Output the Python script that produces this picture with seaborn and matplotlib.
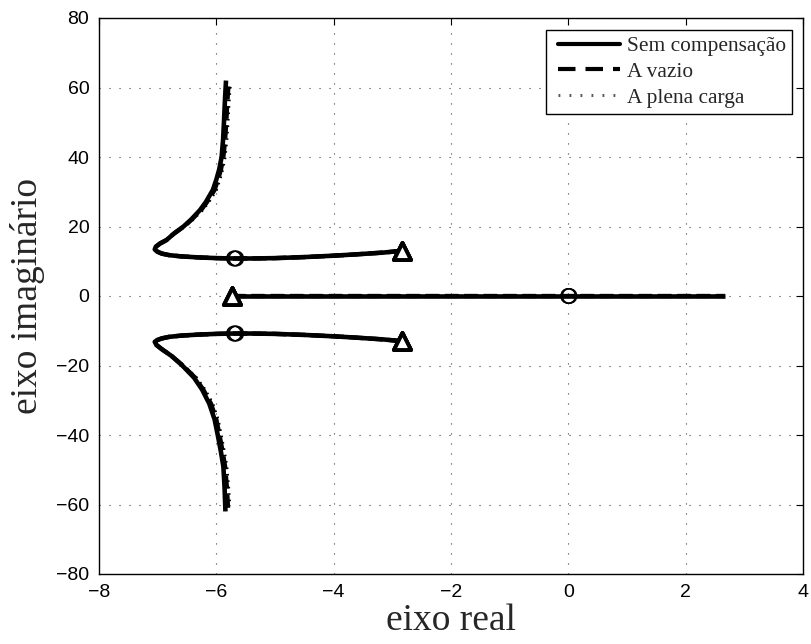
import numpy as np
import pandas as pd
import matplotlib
matplotlib.use("Agg")
import matplotlib.pyplot as plt
import seaborn as sns
from matplotlib.lines import Line2D
from matplotlib.legend_handler import HandlerLine2D

# Root-locus branches (real part, imaginary part)
series_names = ["Sem compensação", "A vazio", "A plena carga"]

# upper complex branch, from the open-loop pole upward
upper_re_sem = [-2.84, -3.15, -3.6, -4.0, -4.5, -5.0, -5.4, -5.7, -6.0, -6.3, -6.6, -6.8, -6.93, -7.01, -7.05,
                -7.03, -6.96, -6.85, -6.72, -6.56, -6.43, -6.28, -6.18, -6.06, -6.0, -5.95, -5.91,
                -5.885, -5.87, -5.857, -5.845, -5.835]
upper_im_sem = [13.0, 12.5, 12.0, 11.6, 11.2, 10.9, 10.8, 10.8, 10.9, 11.1, 11.4, 11.75, 12.2, 12.8, 13.4,
                14.2, 15.1, 16.1, 18.0, 20.0, 22.0, 24.7, 27.0, 30.5, 33.5, 36.5, 40.0,
                45.0, 50.0, 55.0, 59.0, 62.0]
upper_re_vaz = [-2.84, -3.15, -3.6, -4.0, -4.5, -5.0, -5.4, -5.7, -6.0, -6.3, -6.6, -6.8, -6.93, -7.01, -7.05,
                -7.03, -6.96, -6.85, -6.72, -6.55, -6.42, -6.26, -6.16, -6.03, -5.97, -5.92, -5.88,
                -5.85, -5.83, -5.815, -5.80, -5.79]
upper_im_vaz = [13.0, 12.5, 12.0, 11.6, 11.2, 10.9, 10.8, 10.8, 10.9, 11.1, 11.4, 11.75, 12.2, 12.8, 13.4,
                14.2, 15.1, 16.1, 18.0, 20.0, 22.0, 24.7, 27.0, 30.5, 33.5, 36.5, 40.0,
                45.0, 50.0, 55.0, 59.0, 61.0]
upper_re_ple = [-2.84, -3.15, -3.6, -4.0, -4.5, -5.0, -5.4, -5.7, -6.0, -6.3, -6.6, -6.8, -6.93, -7.01, -7.05,
                -7.03, -6.96, -6.85, -6.72, -6.55, -6.41, -6.25, -6.14, -6.01, -5.95, -5.90, -5.86,
                -5.83, -5.81, -5.795, -5.78, -5.77]
upper_im_ple = [13.0, 12.5, 12.0, 11.6, 11.2, 10.9, 10.8, 10.8, 10.9, 11.1, 11.4, 11.75, 12.2, 12.8, 13.4,
                14.2, 15.1, 16.1, 18.0, 20.0, 22.0, 24.7, 27.0, 30.5, 33.5, 36.5, 40.0,
                45.0, 50.0, 55.0, 59.0, 60.5]

# lower complex branch, from the open-loop pole downward
lower_re_sem = [-2.84, -3.15, -3.6, -4.0, -4.5, -5.0, -5.4, -5.7, -6.0, -6.3, -6.6, -6.8, -6.93, -7.01, -7.05,
                -7.02, -6.93, -6.76, -6.58, -6.38, -6.24, -6.12, -6.03, -5.97, -5.92, -5.88, -5.86, -5.845]
lower_im_sem = [-13.0, -12.5, -12.0, -11.6, -11.2, -10.9, -10.8, -10.8, -10.9, -11.1, -11.4, -11.75, -12.2, -12.7, -13.2,
                -14.1, -15.3, -17.3, -20.0, -23.5, -27.0, -31.0, -35.5, -40.5, -45.0, -49.1, -55.0, -62.0]
lower_re_vaz = [-2.84, -3.15, -3.6, -4.0, -4.5, -5.0, -5.4, -5.7, -6.0, -6.3, -6.6, -6.8, -6.93, -7.01, -7.05,
                -7.02, -6.93, -6.76, -6.57, -6.36, -6.22, -6.09, -6.0, -5.94, -5.89, -5.85, -5.82, -5.80]
lower_im_vaz = [-13.0, -12.5, -12.0, -11.6, -11.2, -10.9, -10.8, -10.8, -10.9, -11.1, -11.4, -11.75, -12.2, -12.7, -13.2,
                -14.1, -15.3, -17.3, -20.0, -23.5, -27.0, -31.0, -35.5, -40.5, -45.0, -49.1, -55.0, -61.0]
lower_re_ple = [-2.84, -3.15, -3.6, -4.0, -4.5, -5.0, -5.4, -5.7, -6.0, -6.3, -6.6, -6.8, -6.93, -7.01, -7.05,
                -7.02, -6.93, -6.76, -6.57, -6.35, -6.20, -6.07, -5.98, -5.92, -5.87, -5.83, -5.80, -5.78]
lower_im_ple = [-13.0, -12.5, -12.0, -11.6, -11.2, -10.9, -10.8, -10.8, -10.9, -11.1, -11.4, -11.75, -12.2, -12.7, -13.2,
                -14.1, -15.3, -17.3, -20.0, -23.5, -27.0, -31.0, -35.5, -40.5, -45.0, -49.1, -55.0, -60.5]

# real-axis branch
real_re = [-5.74, 2.67]
real_im = [0.0, 0.0]

# open-loop poles (triangles) and zeros (circles)
pole_re = [-2.84, -2.84, -5.74]
pole_im = [13.0, -13.0, 0.0]
zero_re_sem = [-5.70, -5.70, 0.0]
zero_re_vaz = [-5.68, -5.68, 0.0]
zero_re_ple = [-5.66, -5.66, 0.02]
zero_im = [10.8, -10.8, 0.0]

xticks = [-8, -6, -4, -2, 0, 2, 4]
yticks = [-80, -60, -40, -20, 0, 20, 40, 60, 80]

sns.set_theme(style="white")
plt.rcParams["font.family"] = ["Liberation Sans", "DejaVu Sans"]
plt.rcParams["axes.unicode_minus"] = True

fig = plt.figure(figsize=(8.11, 6.44), dpi=100)
ax = fig.add_axes([99 / 811, 1 - 574 / 644, (803 - 99) / 811, (574 - 18) / 644])

styles = {
    "Sem compensação": dict(linestyle="-", linewidth=3.3),
    "A vazio": dict(linestyle=(0, (3, 1.5)), linewidth=3.1),
    "A plena carga": dict(linestyle=(0, (0.4, 1.2)), linewidth=2.9),
}

branches = {
    "Sem compensação": [(upper_re_sem, upper_im_sem), (lower_re_sem, lower_im_sem), (real_re, real_im)],
    "A vazio": [(upper_re_vaz, upper_im_vaz), (lower_re_vaz, lower_im_vaz), (real_re, real_im)],
    "A plena carga": [(upper_re_ple, upper_im_ple), (lower_re_ple, lower_im_ple), (real_re, real_im)],
}
zeros = {"Sem compensação": zero_re_sem, "A vazio": zero_re_vaz, "A plena carga": zero_re_ple}

for name in series_names:
    for re, im in branches[name]:
        df = pd.DataFrame({"re": re, "im": im})
        sns.lineplot(data=df, x="re", y="im", sort=False, estimator=None, color="black",
                     ax=ax, solid_joinstyle="round", dash_joinstyle="round",
                     solid_capstyle="butt", **styles[name])

for name in series_names:
    sns.scatterplot(x=pole_re, y=pole_im, marker="^", s=150, facecolor="white",
                    edgecolor="black", linewidth=2.8, ax=ax, zorder=5)
    sns.scatterplot(x=zeros[name], y=zero_im, marker="o", s=110, facecolor="none",
                    edgecolor="black", linewidth=1.0, ax=ax, zorder=6)

ax.set_xlim(-8, 4)
ax.set_ylim(-80, 80)
ax.set_xticks(xticks)
ax.set_yticks(yticks)
ax.tick_params(direction="in", length=5, width=0.8, top=True, right=True,
               labelsize=14, colors="black", pad=7)
for sp in ax.spines.values():
    sp.set_color("black")
    sp.set_linewidth(1.0)
ax.grid(True, color="0.25", linestyle=(0, (1, 8)), linewidth=0.8)

ax.set_xlabel("eixo real", fontfamily="Liberation Serif", fontsize=27, labelpad=2)
ax.set_ylabel("eixo imaginário", fontfamily="Liberation Serif", fontsize=27, labelpad=8)

handles = [
    Line2D([], [], color="black", linestyle="-", linewidth=3.0),
    Line2D([], [], color="black", linestyle=(0, (4.2, 2.4)), linewidth=3.0),
    Line2D([], [], color="0.35", linestyle=(0, (0.6, 3.0)), linewidth=2.2),
]
pad_handler = HandlerLine2D(xpad=0.28)
leg = ax.legend(handles, series_names, loc="upper right", bbox_to_anchor=(0.985, 0.979),
                prop={"family": "Liberation Serif", "size": 15.4}, frameon=True, fancybox=False,
                framealpha=1, edgecolor="black", handlelength=3.18, handletextpad=0.3,
                borderpad=0.3, labelspacing=0.27, borderaxespad=0,
                handler_map={h: pad_handler for h in handles})
leg.get_frame().set_linewidth(1.0)

fig.savefig("out.png", dpi=100)
